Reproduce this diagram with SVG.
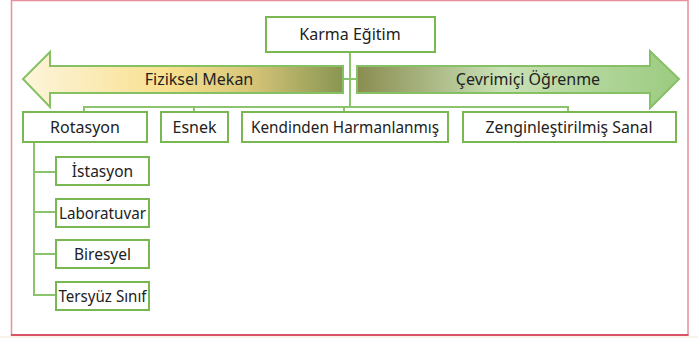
<svg xmlns="http://www.w3.org/2000/svg" width="698" height="338" viewBox="0 0 698 338">
<defs>
<linearGradient id="gL" x1="23" y1="0" x2="343" y2="0" gradientUnits="userSpaceOnUse">
<stop offset="0" stop-color="#fdf5dc"/>
<stop offset="0.45" stop-color="#f8e08e"/>
<stop offset="0.7" stop-color="#d9c77a"/>
<stop offset="1" stop-color="#889551"/>
</linearGradient>
<linearGradient id="gR" x1="356" y1="0" x2="679" y2="0" gradientUnits="userSpaceOnUse">
<stop offset="0" stop-color="#8a8c50"/>
<stop offset="0.45" stop-color="#c9e1b6"/>
<stop offset="1" stop-color="#9ccb80"/>
</linearGradient>
</defs>
<style>
.box{fill:#fff;stroke:#79b753;stroke-width:2}
.arr{stroke:#86c065;stroke-width:2}
.ln{fill:none;stroke:#8cc46e;stroke-width:2}
text{font-family:"Noto Sans","Liberation Sans",sans-serif;font-size:16px;fill:#222;text-anchor:middle}
.sub{font-size:15.5px}
</style>
<rect x="0" y="0" width="698" height="338" fill="#fff"/>
<rect x="0" y="336" width="698" height="2" fill="#f8f4ec"/>
<rect x="11.5" y="0.5" width="676.5" height="334.5" fill="#fff" stroke="#e6909b" stroke-width="1.5"/>
<line x1="11" y1="335" x2="688.5" y2="335" stroke="#d3394d" stroke-width="1.5"/>
<g id="connectors">
<line class="ln" x1="350" y1="52" x2="350" y2="107"/>
<line class="ln" x1="343" y1="79" x2="357" y2="79"/>
<polyline class="ln" points="84,113 84,107 568,107 568,113"/>
<line class="ln" x1="194" y1="107" x2="194" y2="113"/>
<line class="ln" x1="344" y1="107" x2="344" y2="113"/>
<polyline class="ln" points="34,142 34,295 57,295"/>
<line class="ln" x1="34" y1="172" x2="57" y2="172"/>
<line class="ln" x1="34" y1="212" x2="57" y2="212"/>
<line class="ln" x1="34" y1="254" x2="57" y2="254"/>
</g>
<g id="arrow-left">
<polygon class="arr" fill="url(#gL)" points="343,66 50,66 50,52 23,79 50,107 50,93 343,93"/>
<text x="199" y="85">Fiziksel Mekan</text>
</g>
<g id="arrow-right">
<polygon class="arr" fill="url(#gR)" points="357,66 650,66 650,51 679,79 650,108 650,93 357,93"/>
<text x="528" y="85">Çevrimiçi Öğrenme</text>
</g>
<g id="karma">
<rect class="box" x="266" y="17" width="169" height="35"/>
<text x="350" y="40">Karma Eğitim</text>
</g>
<g id="rotasyon">
<rect class="box" x="23" y="112" width="124" height="30"/>
<text x="85" y="132.5">Rotasyon</text>
</g>
<g id="esnek">
<rect class="box" x="161" y="112" width="67" height="30"/>
<text x="194.5" y="132.5">Esnek</text>
</g>
<g id="kendinden">
<rect class="box" x="242" y="112" width="206" height="30"/>
<text x="345" y="132.5" textLength="188" lengthAdjust="spacingAndGlyphs">Kendinden Harmanlanmış</text>
</g>
<g id="zengin">
<rect class="box" x="463" y="112" width="213" height="30"/>
<text x="569" y="132.5" textLength="167" lengthAdjust="spacingAndGlyphs">Zenginleştirilmiş Sanal</text>
</g>
<g id="istasyon">
<rect class="box" x="56" y="157" width="93" height="28"/>
<text class="sub" x="102.5" y="176.5">İstasyon</text>
</g>
<g id="laboratuvar">
<rect class="box" x="56" y="199" width="93" height="28"/>
<text class="sub" x="102.5" y="218.5" textLength="87" lengthAdjust="spacingAndGlyphs">Laboratuvar</text>
</g>
<g id="biresyel">
<rect class="box" x="56" y="240" width="93" height="28"/>
<text class="sub" x="102.5" y="259.5">Biresyel</text>
</g>
<g id="tersyuz">
<rect class="box" x="56" y="282" width="93" height="28"/>
<text class="sub" x="102.5" y="301.5" textLength="88" lengthAdjust="spacingAndGlyphs">Tersyüz Sınıf</text>
</g>
</svg>
